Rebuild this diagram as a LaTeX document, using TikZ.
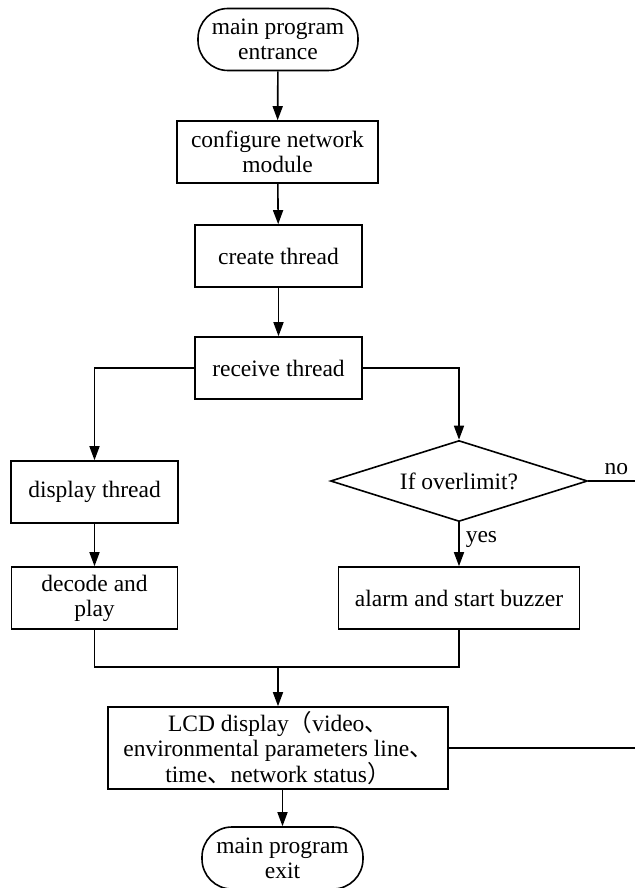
\documentclass[tikz,border=0pt]{standalone}
\usepackage{fontspec}
\setmainfont{Liberation Serif}
\newfontfamily\cjk{Noto Sans CJK SC}
\usetikzlibrary{positioning,shapes.geometric,arrows.meta}

\begin{document}
\begin{tikzpicture}[x=1pt, y=-1pt, >={Triangle[length=14pt,width=10pt]}, line width=1.6pt,
  procbox/.style={rectangle, draw, minimum height=62pt, inner sep=0pt, align=center},
  termnode/.style={rectangle, draw, rounded corners=30pt, minimum width=160pt, minimum height=62pt, inner sep=0pt, align=center},
  decnode/.style={diamond, draw, aspect=3.2, minimum width=257pt, minimum height=81pt, inner sep=0pt},
  every node/.style={font=\fontsize{23.5}{25}\selectfont}]

  \useasboundingbox (0,0) rectangle (635,888);

  \node[termnode] (start) at (278,39.5) {main program\\entrance};
  \node[procbox, minimum width=201pt] (config) at (277.5,152) {configure network\\module};
  \node[procbox, minimum width=167pt] (create) at (278.5,256) {create thread};
  \node[procbox, minimum width=167pt] (receive) at (278.5,368) {receive thread};
  \node[procbox, minimum width=167pt] (display) at (94.5,492) {display thread};
  \node[procbox, minimum width=166pt] (decode) at (94.5,598) {decode and\\play};
  \node[decnode] (check) at (459,481) {If overlimit?};
  \node[procbox, minimum width=241pt] (alarm) at (459,598) {alarm and start buzzer};
  \node[procbox, minimum width=340pt, minimum height=82pt] (lcd) at (278,748)
    {LCD display{\cjk （}video{\cjk 、}\\environmental parameters line{\cjk 、}\\time{\cjk 、}network status{\cjk ）}};
  \node[termnode, minimum width=161pt] (exit) at (282.5,858) {main program\\exit};
  \coordinate (noend) at (635,481);
  \coordinate (lcdend) at (635,748);
  \coordinate (merge) at (278,667);

  \draw[->] (start) -- (config);
  \draw[->] (config) -- (create);
  \draw[->] (create) -- (receive);
  \draw[->] (receive.west) -| (display.north);
  \draw[->] (receive.east) -| (check.north);
  \draw[->] (display) -- (decode);
  \draw[->] (check.south) -- node[right, pos=0.4, inner sep=6pt] {yes} (alarm.north);
  \draw (check.east) -- node[above, pos=0.6, inner sep=5pt] {no} (noend);
  \draw (decode.south) |- (merge) -| (alarm.south);
  \draw[->] (merge) -- (lcd.north);
  \draw (lcd.east) -- (lcdend);
  \draw[->] (lcd.south -| exit.north) -- (exit.north);
\end{tikzpicture}
\end{document}
